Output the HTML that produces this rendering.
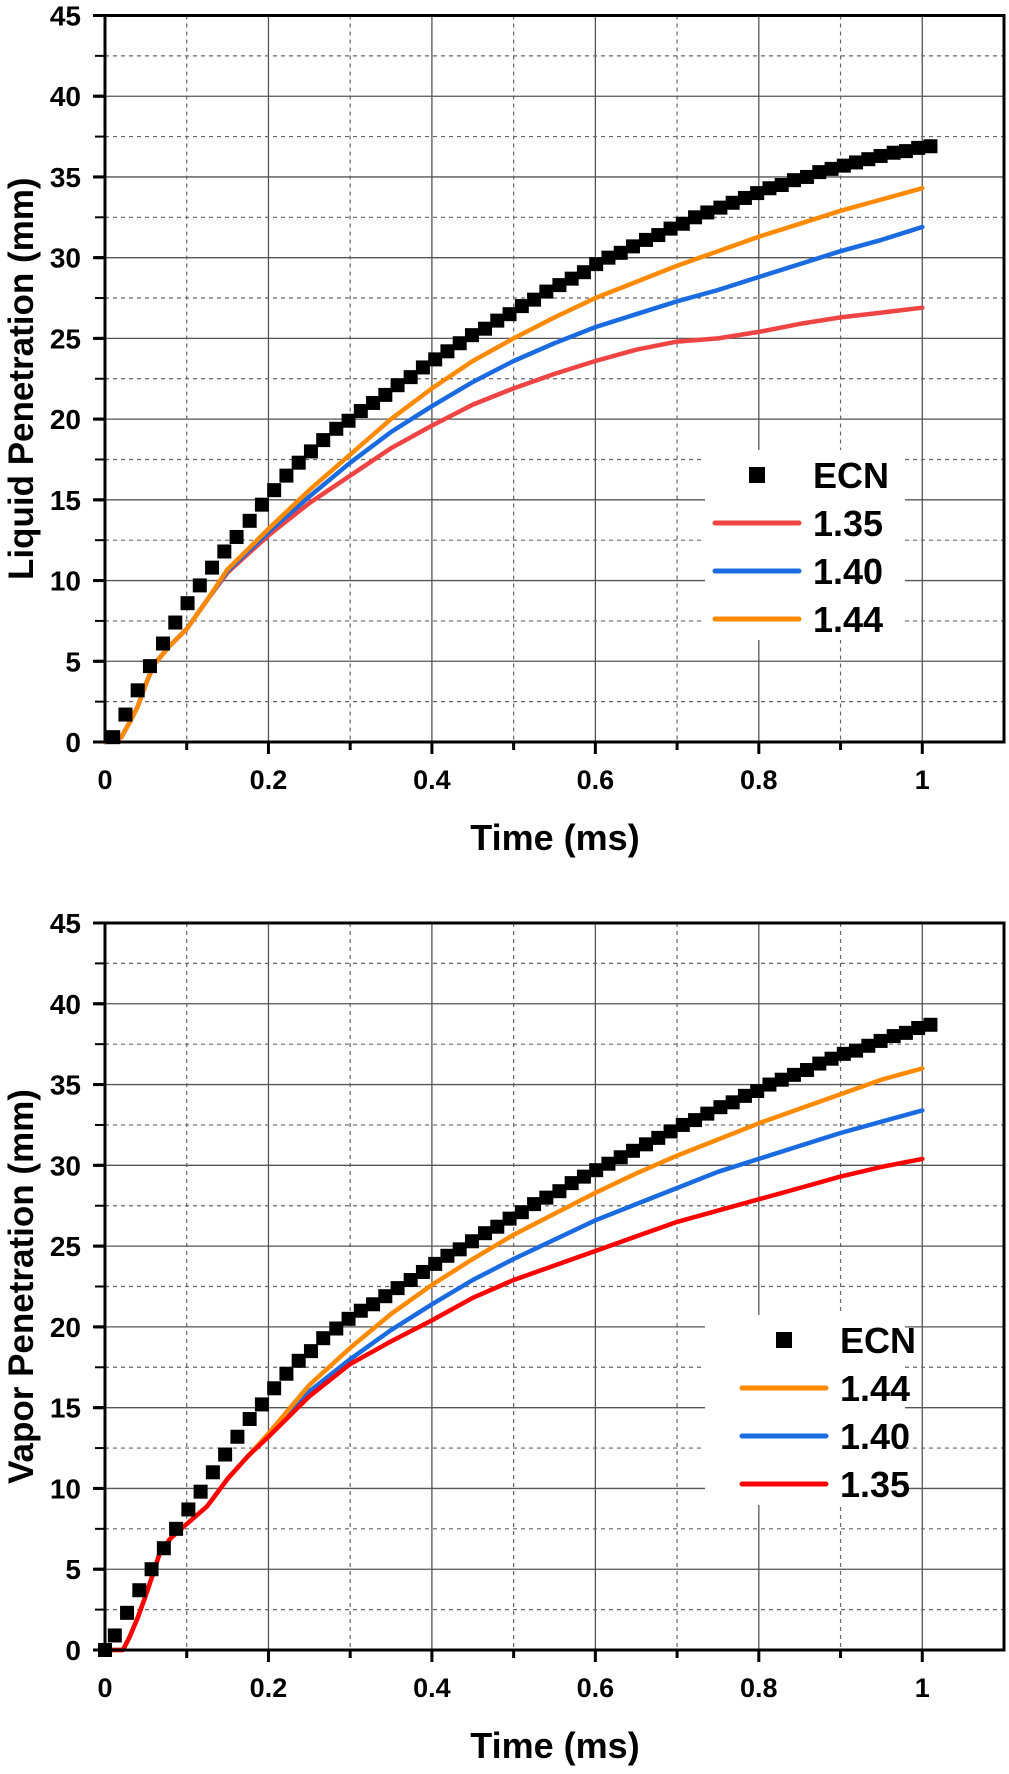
<!DOCTYPE html>
<html><head><meta charset="utf-8"><style>
html,body{margin:0;padding:0;background:#fff;}
svg text{font-family:"Liberation Sans",Arial,sans-serif;font-weight:bold;fill:#000;}
</style></head><body>
<svg id="fig" width="1009" height="1769" viewBox="0 0 1009 1769" xmlns="http://www.w3.org/2000/svg"></svg>
<script>
// ---- shared data ----
const xTicks = [0, 0.2, 0.4, 0.6, 0.8, 1];
const xTickLabels = ["0", "0.2", "0.4", "0.6", "0.8", "1"];
const yTicks = [0, 5, 10, 15, 20, 25, 30, 35, 40, 45];
const ecnTime = [0.01,0.025,0.040,0.055,0.071,0.086,0.101,0.116,0.131,0.146,0.161,0.177,0.192,0.207,0.222,0.237,0.252,0.267,0.283,0.298,0.313,0.328,0.343,0.358,0.374,0.389,0.404,0.419,0.434,0.449,0.465,0.48,0.495,0.51,0.525,0.540,0.556,0.571,0.586,0.601,0.616,0.631,0.646,0.662,0.677,0.692,0.707,0.722,0.737,0.753,0.768,0.783,0.798,0.813,0.828,0.843,0.859,0.874,0.889,0.904,0.919,0.934,0.949,0.965,0.98,0.995,1.01];
// top chart (liquid)
const liqEcn = [0.3,1.7,3.2,4.7,6.1,7.4,8.6,9.7,10.8,11.8,12.7,13.7,14.7,15.6,16.5,17.3,18.0,18.7,19.4,19.9,20.5,21.0,21.5,22.1,22.6,23.2,23.7,24.2,24.7,25.2,25.6,26.1,26.5,27.0,27.4,27.9,28.3,28.7,29.1,29.6,30.0,30.3,30.7,31.1,31.4,31.8,32.1,32.5,32.8,33.1,33.4,33.7,34.0,34.3,34.5,34.8,35.0,35.3,35.5,35.7,35.9,36.1,36.3,36.5,36.6,36.8,36.9];
const liqTime = [0,0.01,0.02,0.03,0.04,0.05,0.06,0.08,0.1,0.125,0.15,0.2,0.25,0.3,0.35,0.4,0.45,0.5,0.55,0.6,0.65,0.7,0.75,0.8,0.85,0.9,0.95,1.0];
const liq135 = [0,0.05,0.3,1.2,2.2,3.6,4.8,6.0,7.0,8.8,10.5,12.8,14.8,16.5,18.2,19.6,20.9,21.9,22.8,23.6,24.3,24.8,25.0,25.4,25.9,26.3,26.6,26.9];
const liq140 = [0,0.05,0.3,1.2,2.2,3.6,4.8,6.0,7.0,8.8,10.6,13.0,15.2,17.3,19.2,20.8,22.3,23.6,24.7,25.7,26.5,27.3,28.0,28.8,29.6,30.4,31.1,31.9];
const liq144 = [0,0.05,0.3,1.2,2.2,3.6,4.8,6.0,7.0,8.8,10.7,13.2,15.6,17.8,20.0,21.9,23.6,25.0,26.3,27.5,28.5,29.5,30.4,31.3,32.1,32.9,33.6,34.3];
// bottom chart (vapor)
const vapEcnTime = [0,0.012,0.027,0.042,0.057,0.072,0.087,0.102,0.117,0.132,0.147,0.162,0.177,0.192,0.207,0.222,0.237,0.252,0.267,0.283,0.298,0.313,0.328,0.343,0.358,0.374,0.389,0.404,0.419,0.434,0.449,0.465,0.48,0.495,0.51,0.525,0.540,0.556,0.571,0.586,0.601,0.616,0.631,0.646,0.662,0.677,0.692,0.707,0.722,0.737,0.753,0.768,0.783,0.798,0.813,0.828,0.843,0.859,0.874,0.889,0.904,0.919,0.934,0.949,0.965,0.98,0.995,1.01];
const vapEcn = [0,0.9,2.3,3.7,5.0,6.3,7.5,8.7,9.8,11.0,12.1,13.2,14.3,15.2,16.2,17.1,17.9,18.5,19.3,19.9,20.5,21.0,21.4,21.9,22.4,22.9,23.4,23.9,24.4,24.8,25.3,25.8,26.2,26.7,27.1,27.6,28.0,28.4,28.9,29.3,29.7,30.1,30.5,30.9,31.3,31.7,32.1,32.5,32.8,33.2,33.6,33.9,34.3,34.6,35.0,35.3,35.6,35.9,36.3,36.6,36.9,37.1,37.4,37.7,38.0,38.2,38.5,38.7];
const vapTime = [0,0.022,0.03,0.04,0.05,0.06,0.067,0.08,0.1,0.125,0.15,0.175,0.2,0.25,0.3,0.35,0.4,0.45,0.5,0.55,0.6,0.65,0.7,0.75,0.8,0.85,0.9,0.95,1.0];
const vap135 = [0,0,0.8,2.0,3.4,4.9,6.0,6.9,7.8,8.9,10.6,12.0,13.2,15.7,17.7,19.1,20.4,21.8,22.9,23.8,24.7,25.6,26.5,27.2,27.9,28.6,29.3,29.9,30.4];
const vap140 = [0,0,0.8,2.0,3.4,4.9,6.0,6.9,7.8,8.9,10.6,12.0,13.3,16.0,18.0,19.8,21.4,22.9,24.2,25.4,26.6,27.6,28.6,29.6,30.4,31.2,32.0,32.7,33.4];
const vap144 = [0,0,0.8,2.0,3.4,4.9,6.0,6.9,7.8,8.9,10.6,12.0,13.4,16.4,18.7,20.8,22.6,24.2,25.7,27.0,28.3,29.5,30.6,31.6,32.6,33.5,34.4,35.3,36.0];

const NS = "http://www.w3.org/2000/svg";
const svg = document.getElementById('fig');
function mk(tag, attrs, parent){const e=document.createElementNS(NS,tag);for(const k in attrs)e.setAttribute(k,attrs[k]);(parent||svg).appendChild(e);return e;}

const L=105, R=1004, XMAX=1.1, YMAX=45;
function drawChart(top, bottom, yTitle, ecnT, ecnVals, lineTime, series, legendItems, legendY0, legendSquareX, prefix){
  const g = mk('g',{});
  
  
  const sx = v => L + v/XMAX*(R-L);
  const sy = v => bottom - v/YMAX*(bottom-top);
  for(let v=0.1; v<XMAX-0.01; v+=0.1){
    const major = Math.round(v*10)%2===0;
    const ln = mk('line',{x1:sx(v),x2:sx(v),y1:top,y2:bottom,stroke:major?'#555':'#666','stroke-width':major?1.3:1.2,'stroke-dasharray':major?'':'4,4'},g);
    
    
  }
  for(let v=2.5; v<YMAX; v+=2.5){
    const major = Math.round(v/2.5)%2===0;
    const ln = mk('line',{x1:L,x2:R,y1:sy(v),y2:sy(v),stroke:major?'#555':'#666','stroke-width':major?1.3:1.2,'stroke-dasharray':major?'':'4,4'},g);
    
    
    const tk = mk('line',{x1:L-10,x2:L,y1:sy(v),y2:sy(v),stroke:'#000','stroke-width':major?3:2},g);
    
    
  }
  for(let v=0.1; v<XMAX-0.01; v+=0.1){
    const major = Math.round(v*10)%2===0;
    const tk = mk('line',{x1:sx(v),x2:sx(v),y1:bottom,y2:bottom+(major?12:8),stroke:'#000','stroke-width':3},g);
    
    
  }
  xTicks.forEach((v,i)=>{
    const t = mk('text',{x:sx(v),y:bottom+47,'font-size':27,'text-anchor':'middle'},g);
    t.textContent = xTickLabels[i];
    
    
  });
  yTicks.forEach(v=>{
    const t = mk('text',{x:81,y:sy(v)+10,'font-size':28,'text-anchor':'end'},g);
    t.textContent = String(v);
    
    
  });
  const lb = mk('rect',{x:705,y:legendY0-25,width:200,height:190,fill:'#fff'},g);
  
  
  series.forEach(s=>{
    const d = lineTime.map((t,i)=>(i?'L':'M')+sx(t).toFixed(1)+','+sy(s.vals[i]).toFixed(1)).join(' ');
    const p = mk('path',{d:d,fill:'none',stroke:s.color,'stroke-width':4.5,'stroke-linejoin':'round','stroke-linecap':'round'},g);
    
    
  });
  const n = Math.min(ecnT.length, ecnVals.length);
  for(let i=0;i<n;i++){
    const r = mk('rect',{x:sx(ecnT[i])-7,y:sy(ecnVals[i])-7,width:14,height:14,fill:'#000'},g);
    
    
  }
  const fr = mk('rect',{x:L,y:top,width:R-L,height:bottom-top,fill:'none',stroke:'#000','stroke-width':3},g);
  
  
  for(const v of yTicks){
    const tk = mk('line',{x1:L-12,x2:L,y1:sy(v),y2:sy(v),stroke:'#000','stroke-width':3},g);
    
    
  }
  legendItems.forEach((it,i)=>{
    const y = legendY0 + i*48;
    if(it.color===null){
      const sq = mk('rect',{x:legendSquareX-8,y:y-8,width:16,height:16,fill:'#000'},g);
      
      
    } else {
      const ln = mk('line',{x1:legendSquareX-42,x2:legendSquareX+42,y1:y,y2:y,stroke:it.color,'stroke-width':5,'stroke-linecap':'round'},g);
      
      
    }
    const t = mk('text',{x:legendSquareX+56,y:y+13,'font-size':36},g);
    t.textContent = it.name;
    
    
  });
  const xt = mk('text',{x:555,y:bottom+108,'font-size':36,'text-anchor':'middle'},g);
  xt.textContent = 'Time (ms)';
  
  
  const cy = (top+bottom)/2;
  const yt = mk('text',{x:0,y:0,'font-size':35,'text-anchor':'middle',transform:`translate(33,${cy}) rotate(-90)`},g);
  yt.textContent = yTitle;
  
  
}

drawChart(15.5, 742, 'Liquid Penetration (mm)', ecnTime, liqEcn, liqTime,
  [{name:'1.35',color:'#ef4444',vals:liq135},{name:'1.40',color:'#1a6ae0',vals:liq140},{name:'1.44',color:'#ff8a00',vals:liq144}],
  [{name:'ECN',color:null},{name:'1.35',color:'#ef4444'},{name:'1.40',color:'#1a6ae0'},{name:'1.44',color:'#ff8a00'}],
  475, 757, 'liquid');
drawChart(923, 1650, 'Vapor Penetration (mm)', vapEcnTime, vapEcn, vapTime,
  [{name:'1.40',color:'#1a6ae0',vals:vap140},{name:'1.44',color:'#ff8a00',vals:vap144},{name:'1.35',color:'#ff0000',vals:vap135}],
  [{name:'ECN',color:null},{name:'1.44',color:'#ff8a00'},{name:'1.40',color:'#1a6ae0'},{name:'1.35',color:'#ff0000'}],
  1340, 784, 'vapor');
</script>
</body></html>
